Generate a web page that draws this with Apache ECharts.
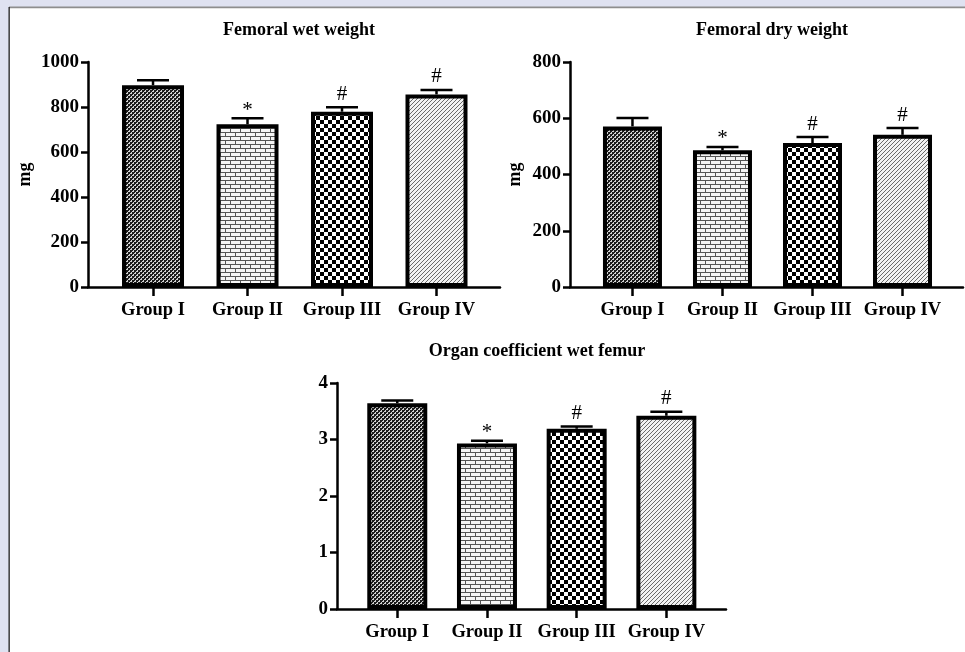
<!DOCTYPE html>
<html>
<head>
<meta charset="utf-8">
<script src="https://cdn.jsdelivr.net/npm/echarts@6/dist/echarts.min.js"></script>
<style>
  html, body { margin: 0; padding: 0; background: #dfe2f1; }
  #chart { width: 965px; height: 652px; }
</style>
</head>
<body>
<div id="chart"></div>
<script>
// Group labels shared by all three panels
const groups = ['Group I', 'Group II', 'Group III', 'Group IV'];

// Femoral wet weight (mg): mean and error
const wetMean = [897, 723, 779, 856];
const wetErr = [22, 27, 20, 20];

// Femoral dry weight (mg): mean and error
const dryMean = [571, 486, 512, 541];
const dryErr = [30, 12, 21, 24];

// Organ coefficient of the wet femur: mean and error
const coefMean = [3.64, 2.93, 3.19, 3.42];
const coefErr = [0.05, 0.05, 0.04, 0.07];

// Significance marks above each bar
const marks = ['', '*', '#', '#'];

// Panel titles, y axis names and tick settings
const titles = ['Femoral wet weight', 'Femoral dry weight', 'Organ coefficient wet femur'];
const yNames = ['mg', 'mg', ''];
const yMax = [1000, 800, 4];
const yStep = [200, 200, 1];

const FONT = "'Liberation Serif', 'Times New Roman', serif";

// Small repeating tiles used as bar fills
function tile(w, h, bg, fg, draw) {
  const c = document.createElement('canvas');
  c.width = w; c.height = h;
  const g = c.getContext('2d');
  g.fillStyle = bg; g.fillRect(0, 0, w, h);
  g.fillStyle = fg;
  draw(g);
  return c;
}
const fineChecker = tile(4, 4, '#d2d2d2', '#1c1c1c', g => {
  g.fillRect(0, 0, 2, 2); g.fillRect(2, 2, 2, 2);
  g.fillRect(2, 0, 1, 1); g.fillRect(0, 2, 1, 1);
});
const brick = tile(10, 8, '#f5f5f5', '#555', g => {
  g.fillRect(0, 0, 10, 1); g.fillRect(0, 4, 10, 1);
  g.fillRect(0, 0, 1, 4); g.fillRect(5, 4, 1, 4);
});
const coarseChecker = tile(8, 8, '#ffffff', '#000000', g => {
  g.fillRect(0, 0, 4, 4); g.fillRect(4, 4, 4, 4);
});
const hatch = tile(4, 4, '#f2f2f2', '#6a6a6a', g => {
  for (let i = 0; i < 4; i++) g.fillRect(i, 3 - i, 1, 1);
});
const fills = [fineChecker, brick, coarseChecker, hatch].map(img => ({ image: img, repeat: 'repeat' }));

// Panel placement in pixels
const grids = [
  { left: 88, top: 62, width: 412, height: 225 },
  { left: 570, top: 62, width: 393, height: 225 },
  { left: 337, top: 383, width: 389, height: 226 }
];
const xRange = [[-0.688, 3.672], [-0.694, 3.672], [-0.672, 3.665]];
const barW = [62, 59, 60];
const nameGaps = [54, 46, 40];
const titlePos = [{ x: 294, y: 16 }, { x: 767, y: 16 }, { x: 532, y: 337 }];

const means = [wetMean, dryMean, coefMean];
const errs = [wetErr, dryErr, coefErr];

const axisStyle = { color: '#000', width: 2.5 };
const labelFont = { color: '#000', fontFamily: FONT, fontWeight: 'bold', fontSize: 18.5 };

const option = {
  backgroundColor: '#dfe2f1',
  animation: false,
  graphic: [
    { type: 'rect', shape: { x: 9, y: 8, width: 956, height: 644 }, style: { fill: '#ffffff' }, z: -10 },
    { type: 'rect', shape: { x: 9, y: 6.5, width: 956, height: 1.8 }, style: { fill: '#8e8e8e' }, z: -9 },
    { type: 'rect', shape: { x: 8.5, y: 7, width: 1.3, height: 645 }, style: { fill: '#1e1e1e' }, z: -9 }
  ],
  title: titles.map((t, i) => ({
    text: t,
    left: titlePos[i].x,
    top: titlePos[i].y,
    textAlign: 'center',
    textStyle: { color: '#000', fontFamily: FONT, fontWeight: 'bold', fontSize: 18 }
  })),
  grid: grids,
  xAxis: grids.map((g, i) => ({
    type: 'value',
    gridIndex: i,
    min: xRange[i][0],
    max: xRange[i][1],
    splitLine: { show: false },
    axisLine: { show: true, onZero: false, lineStyle: axisStyle },
    axisTick: { show: true, customValues: [0, 1, 2, 3], length: 9, lineStyle: axisStyle },
    axisLabel: Object.assign({
      customValues: [0, 1, 2, 3],
      margin: 14,
      formatter: v => groups[Math.round(v)]
    }, labelFont)
  })),
  yAxis: grids.map((g, i) => ({
    type: 'value',
    gridIndex: i,
    min: 0,
    max: yMax[i],
    interval: yStep[i],
    name: yNames[i],
    nameLocation: 'middle',
    nameGap: nameGaps[i],
    nameTextStyle: { color: '#000', fontFamily: FONT, fontWeight: 'bold', fontSize: 18 },
    splitLine: { show: false },
    axisLine: { show: true, onZero: false, lineStyle: axisStyle },
    axisTick: { show: true, length: 7, lineStyle: axisStyle },
    axisLabel: Object.assign({ margin: 9, formatter: v => String(v) }, labelFont, { fontSize: 19 })
  })),
  series: []
};

means.forEach((vals, i) => {
  option.series.push({
    type: 'bar',
    xAxisIndex: i,
    yAxisIndex: i,
    barWidth: barW[i],
    data: vals.map((v, k) => ({
      value: [k, v],
      itemStyle: { color: fills[k], borderColor: '#000', borderWidth: 4 }
    })),
    z: 2
  });
  option.series.push({
    type: 'custom',
    xAxisIndex: i,
    yAxisIndex: i,
    z: 3,
    data: vals.map((v, k) => [k, v, errs[i][k]]),
    renderItem: (params, api) => {
      const x = api.value(0), v = api.value(1), e = api.value(2);
      const base = api.coord([x, v]);
      const cap = api.coord([x, v + e]);
      const line = { stroke: '#000', lineWidth: 2.5 };
      const kids = [
        { type: 'line', shape: { x1: base[0], y1: base[1], x2: cap[0], y2: cap[1] }, style: line },
        { type: 'line', shape: { x1: cap[0] - 16, y1: cap[1], x2: cap[0] + 16, y2: cap[1] }, style: line }
      ];
      const m = marks[params.dataIndex];
      if (m) {
        kids.push({
          type: 'text',
          style: {
            text: m, x: cap[0], y: cap[1] - (m === '*' ? 8 : 13),
            align: 'center', verticalAlign: 'middle',
            fill: '#000', font: '21px ' + FONT
          }
        });
      }
      return { type: 'group', children: kids };
    }
  });
});

const chart = echarts.init(document.getElementById('chart'), null, { renderer: 'canvas' });
chart.setOption(option);
</script>
</body>
</html>
